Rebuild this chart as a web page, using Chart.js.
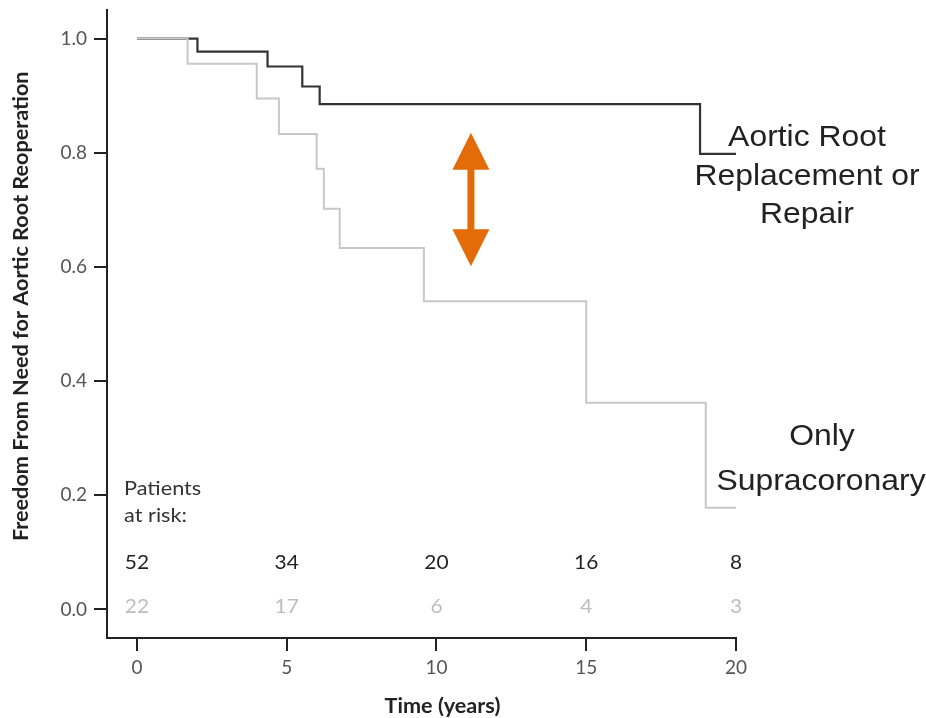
<!DOCTYPE html>
<html>
<head>
<meta charset="utf-8">
<script src="https://cdn.jsdelivr.net/npm/chart.js@4.4.1/dist/chart.umd.min.js"></script>
<style>
  html, body { margin: 0; padding: 0; background: #fff; }
  #wrap { width: 926px; height: 718px; }
</style>
</head>
<body>
<div id="wrap"><canvas id="km"></canvas></div>
<script>
// Kaplan-Meier steps: time (years) and freedom from reoperation
const rootTimes = [0, 2.02, 4.36, 5.52, 6.1, 18.8, 20];
const rootSurv = [1, 0.977, 0.951, 0.916, 0.885, 0.798, 0.798];
const supraTimes = [0, 1.69, 4.0, 4.74, 6.0, 6.24, 6.77, 9.58, 15.0, 18.99, 20];
const supraSurv = [1, 0.956, 0.895, 0.833, 0.772, 0.702, 0.633, 0.540, 0.362, 0.178, 0.178];

// patients at risk table
const riskTimes = [0, 5, 10, 15, 20];
const riskRoot = [52, 34, 20, 16, 8];
const riskSupra = [22, 17, 6, 4, 3];

const xTicks = [0, 5, 10, 15, 20];
const yTicks = [0, 0.2, 0.4, 0.6, 0.8, 1.0];

// difference arrow between the curves
const arrowTime = 11.15;
const arrowRange = [0.601, 0.835];

const toPoints = (xs, ys) => xs.map((x, i) => ({x: x, y: ys[i]}));

// text drawn a little wider than the font's own shape
function wideText(ctx, txt, cx, cy, sx, rot) {
    ctx.save();
    ctx.translate(cx, cy);
    if (rot) ctx.rotate(rot);
    ctx.scale(sx, 1);
    ctx.fillText(txt, 0, 0);
    ctx.restore();
}

const extras = {
    id: 'extras',
    afterDatasetsDraw(chart) {
        const {ctx, chartArea, scales: {x, y}} = chart;
        ctx.save();

        // orange double arrow
        const ax = x.getPixelForValue(arrowTime);
        const top = y.getPixelForValue(arrowRange[1]);
        const bot = y.getPixelForValue(arrowRange[0]);
        const hw = 18.5, hh = 37, sw = 3.5;
        ctx.fillStyle = '#e36c09';
        ctx.beginPath();
        ctx.moveTo(ax, top);
        ctx.lineTo(ax + hw, top + hh);
        ctx.lineTo(ax + sw, top + hh);
        ctx.lineTo(ax + sw, bot - hh);
        ctx.lineTo(ax + hw, bot - hh);
        ctx.lineTo(ax, bot);
        ctx.lineTo(ax - hw, bot - hh);
        ctx.lineTo(ax - sw, bot - hh);
        ctx.lineTo(ax - sw, top + hh);
        ctx.lineTo(ax - hw, top + hh);
        ctx.closePath();
        ctx.fill();

        // patients at risk
        ctx.font = '19px Lato';
        ctx.textAlign = 'left';
        ctx.textBaseline = 'alphabetic';
        ctx.fillStyle = '#333';
        const lx = x.getPixelForValue(-0.43);
        wideText(ctx, 'Patients', lx, y.getPixelForValue(0.201), 1.14);
        wideText(ctx, 'at risk:', lx, y.getPixelForValue(0.153), 1.14);
        ctx.textAlign = 'center';
        ctx.textBaseline = 'middle';
        riskTimes.forEach((t, i) => {
            const px = x.getPixelForValue(t);
            ctx.fillStyle = '#222';
            wideText(ctx, String(riskRoot[i]), px, y.getPixelForValue(0.082), 1.1);
            ctx.fillStyle = '#bdbdbd';
            wideText(ctx, String(riskSupra[i]), px, y.getPixelForValue(0.004), 1.1);
        });

        // axis titles
        ctx.fillStyle = '#222';
        ctx.font = 'bold 21px Lato';
        wideText(ctx, 'Time (years)', x.getPixelForValue(10.2), 706, 1.03);
        wideText(ctx, 'Freedom From Need for Aortic Root Reoperation', 21, y.getPixelForValue(0.531), 1.03, -Math.PI / 2);

        // curve names
        ctx.font = '29px "Liberation Sans", Arial';
        ctx.textBaseline = 'alphabetic';
        const r = chartArea.right;
        const s = 1.1;
        wideText(ctx, 'Aortic Root', r + 71, 146, s);
        wideText(ctx, 'Replacement or', r + 71, 185, s);
        wideText(ctx, 'Repair', r + 71, 223, s);
        wideText(ctx, 'Only', r + 86, 445, s);
        wideText(ctx, 'Supracoronary', r + 85, 490, s);
        ctx.restore();
    }
};

new Chart(document.getElementById('km'), {
    type: 'line',
    data: {
        datasets: [
            {
                label: 'Only Supracoronary',
                data: toPoints(supraTimes, supraSurv),
                borderColor: '#c8c8c8',
                borderWidth: 2,
                stepped: 'before',
                pointRadius: 0,
                order: 0
            },
            {
                label: 'Aortic Root Replacement or Repair',
                data: toPoints(rootTimes, rootSurv),
                borderColor: '#333333',
                borderWidth: 2.2,
                stepped: 'before',
                pointRadius: 0,
                order: 1
            }
        ]
    },
    options: {
        responsive: true,
        maintainAspectRatio: false,
        animation: false,
        layout: {padding: {top: 10, right: 190, left: 0, bottom: 0}},
        plugins: {
            legend: {display: false},
            tooltip: {enabled: false}
        },
        scales: {
            x: {
                type: 'linear',
                min: -1,
                max: 20,
                afterBuildTicks: (s) => { s.ticks = xTicks.map(v => ({value: v})); },
                afterFit: (s) => {
                    s.height = 80;
                    s.paddingLeft = 0;
                    s.paddingRight = 0;
                },
                border: {display: true, color: '#222', width: 2},
                grid: {drawOnChartArea: false, drawTicks: true, tickLength: 13, color: '#222', lineWidth: 2},
                ticks: {
                    padding: 5,
                    color: '#555',
                    font: {family: 'Lato', size: 19},
                    maxRotation: 0
                }
            },
            y: {
                type: 'linear',
                min: -0.05,
                max: 1.05,
                afterBuildTicks: (s) => { s.ticks = yTicks.map(v => ({value: v})); },
                afterFit: (s) => {
                    s.width = 107;
                    s.paddingTop = 0;
                    s.paddingBottom = 0;
                },
                border: {display: true, color: '#222', width: 2},
                grid: {drawOnChartArea: false, drawTicks: true, tickLength: 13, color: '#222', lineWidth: 2},
                ticks: {
                    padding: 7,
                    color: '#555',
                    font: {family: 'Lato', size: 19},
                    callback: (v) => v.toFixed(1)
                }
            }
        }
    },
    plugins: [extras]
});
</script>
</body>
</html>
